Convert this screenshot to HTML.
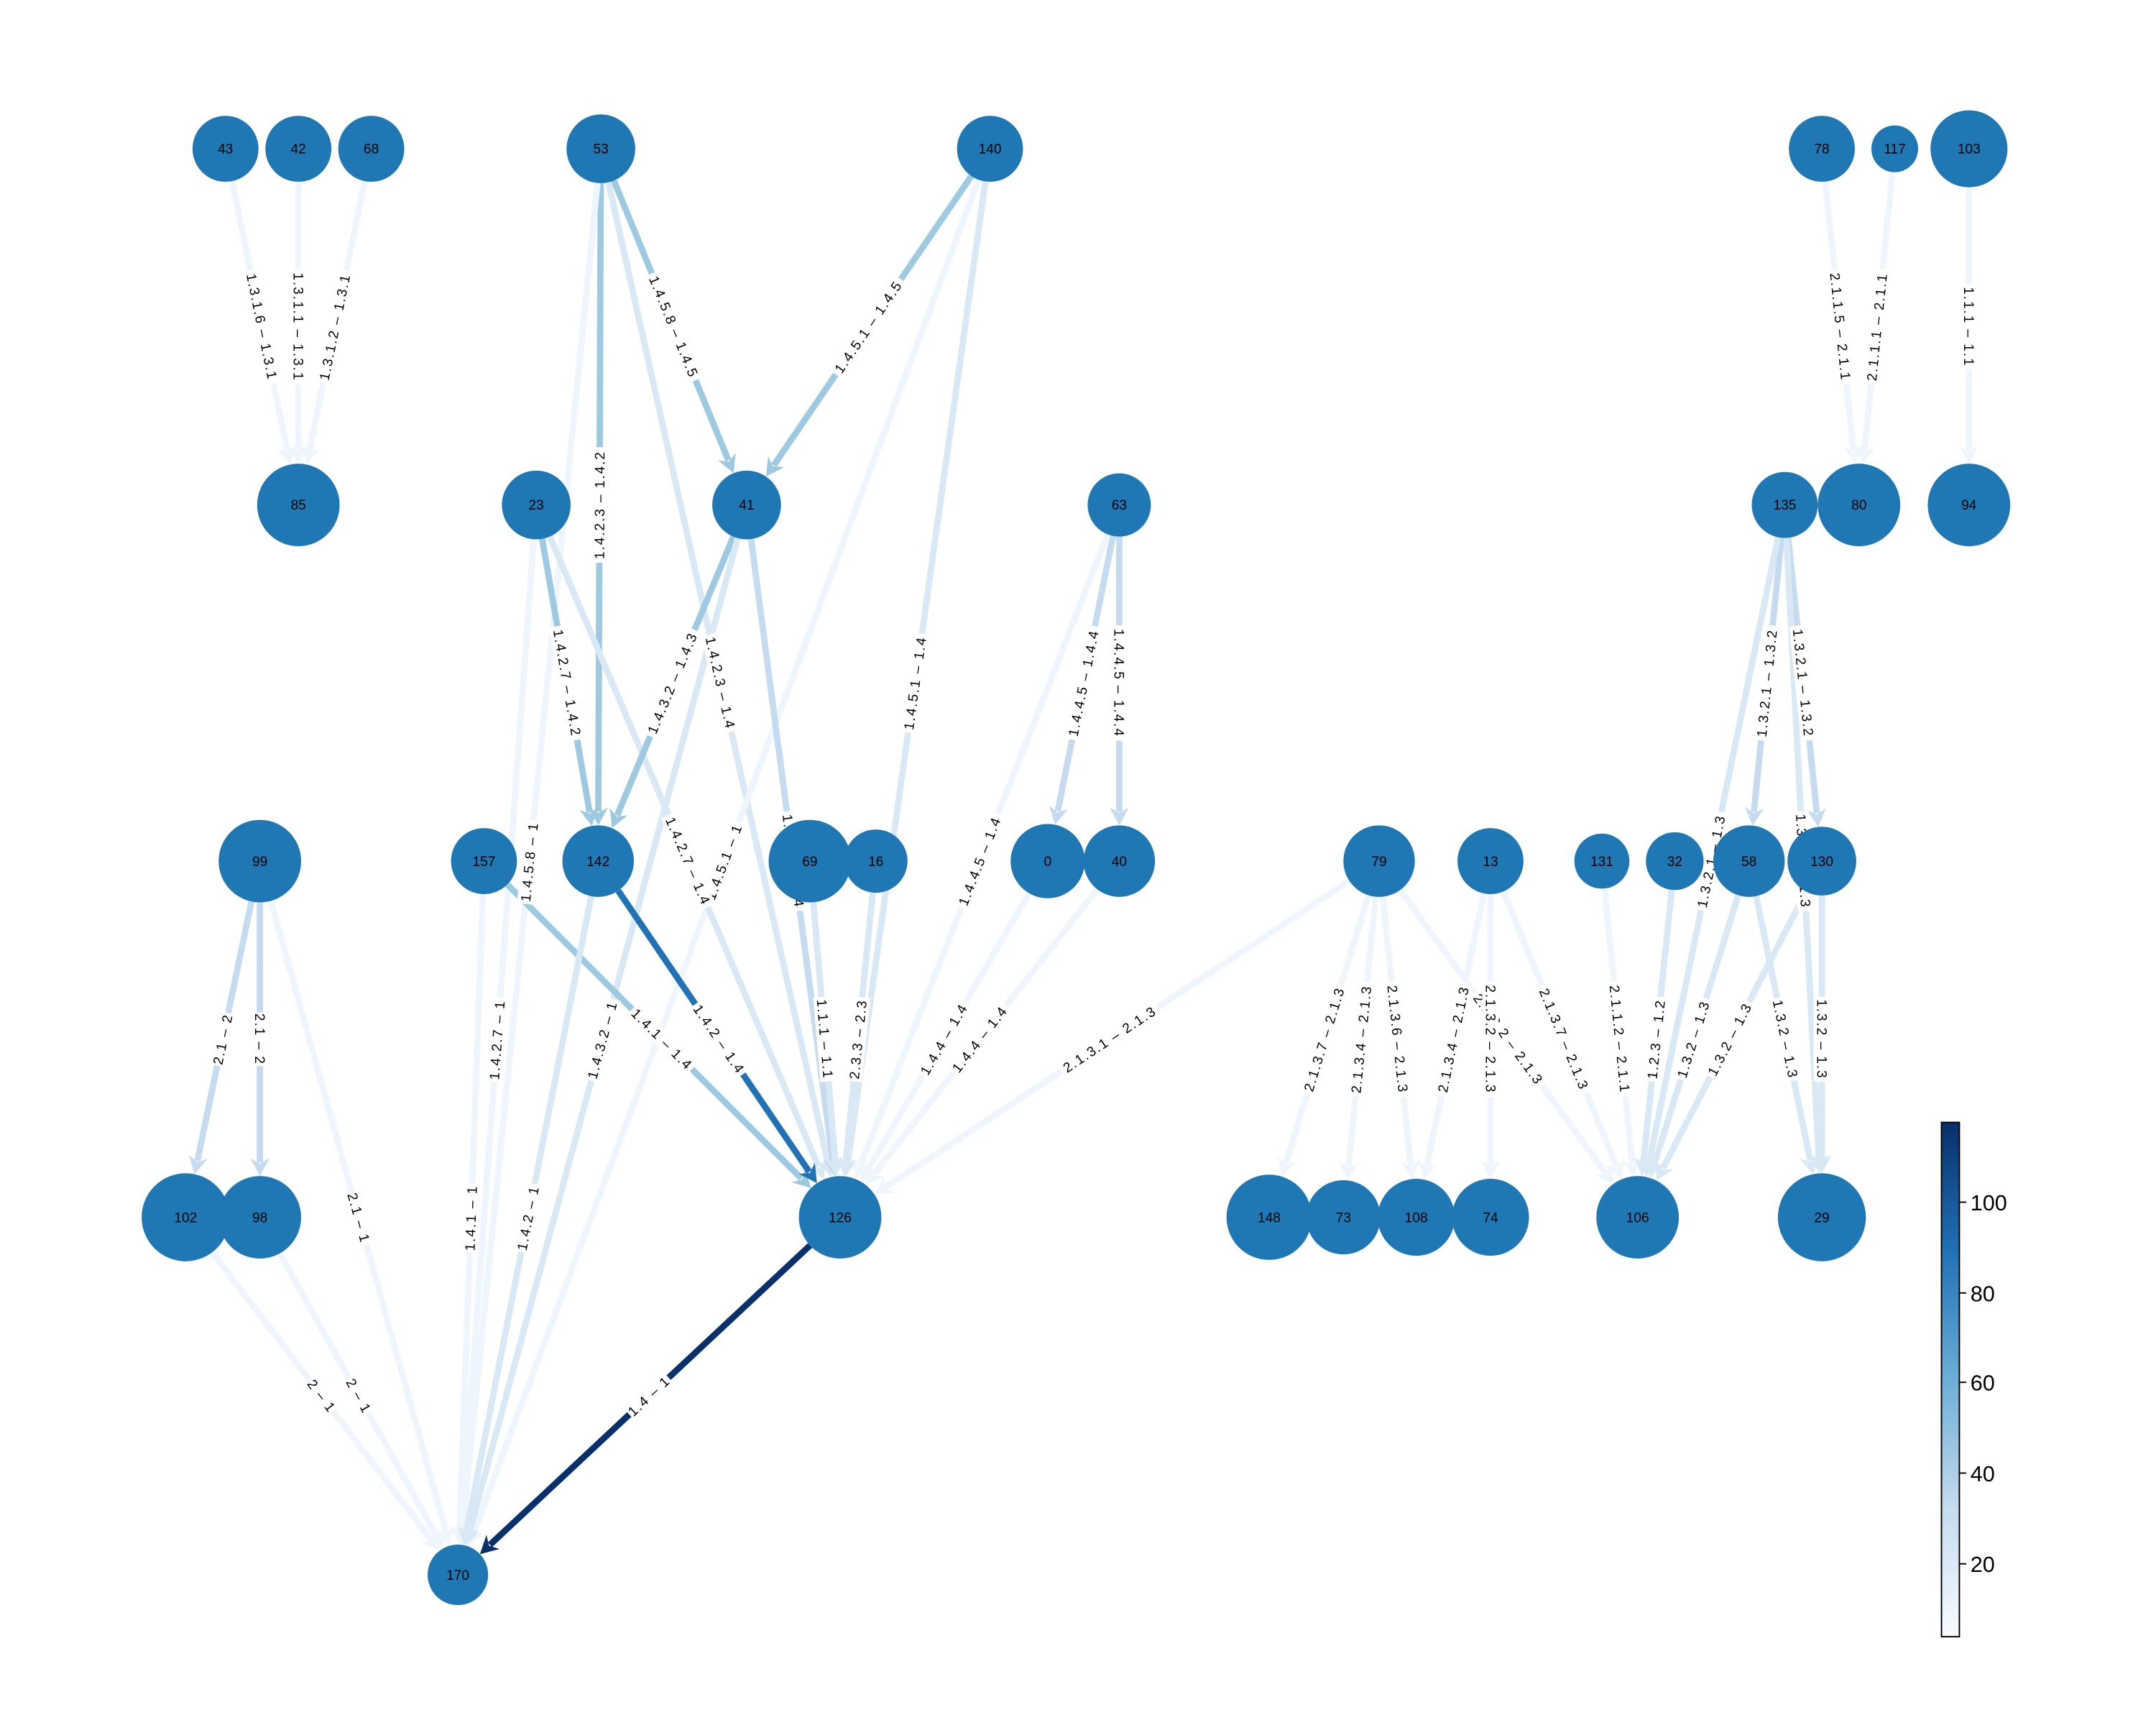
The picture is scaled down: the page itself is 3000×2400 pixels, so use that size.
<!DOCTYPE html>
<html><head><meta charset="utf-8"><style>
html,body{margin:0;padding:0;background:#fff;}
svg{display:block;}
text{font-family:"Liberation Sans",sans-serif;}
</style></head><body>
<svg id="s" width="3000" height="2400" viewBox="0 0 1568 1254" xmlns="http://www.w3.org/2000/svg">
<defs><linearGradient id="cb" x1="0" y1="1" x2="0" y2="0">
<stop offset="0" stop-color="#f7fbff"/><stop offset="0.25" stop-color="#c6dbef"/><stop offset="0.5" stop-color="#6baed6"/><stop offset="0.75" stop-color="#2171b5"/><stop offset="1" stop-color="#08306b"/></linearGradient></defs>
<g id="E"></g><g id="L"></g><g id="N"></g>
<rect x="1412" y="816" width="13" height="374" fill="url(#cb)" stroke="#000" stroke-width="1"/>
<g font-size="16" fill="#000">
<line x1="1425" y1="874" x2="1430" y2="874" stroke="#000"/><text x="1433" y="880">100</text>
<line x1="1425" y1="940" x2="1430" y2="940" stroke="#000"/><text x="1433" y="946">80</text>
<line x1="1425" y1="1005" x2="1430" y2="1005" stroke="#000"/><text x="1433" y="1011">60</text>
<line x1="1425" y1="1071" x2="1430" y2="1071" stroke="#000"/><text x="1433" y="1077">40</text>
<line x1="1425" y1="1137" x2="1430" y2="1137" stroke="#000"/><text x="1433" y="1143">20</text>
</g>
</svg>
<script>
var n={43:[164,108,24],42:[217,108,24],68:[270,108,24],53:[437,108,25],140:[720,108,24],78:[1325,108,24],117:[1378,108,17],103:[1432,108,28],
85:[217,367,30],23:[390,367,25],41:[543,367,25],63:[814,367,23],135:[1298,367,24],80:[1352,367,30],94:[1432,367,30],
99:[189,626,30],157:[352,626,24],142:[435,626,26],69:[589,626,30],16:[637,626,23],0:[762,626,27],40:[814,626,26],
79:[1003,626,26],13:[1084,626,24],131:[1165,626,20],32:[1218,626,21],58:[1272,626,26],130:[1325,626,25],
102:[135,885,32],98:[189,885,30],126:[611,885,30],148:[923,885,31],73:[977,885,27],108:[1030,885,28],74:[1084,885,28],106:[1191,885,30],29:[1325,885,32],170:[333,1145,22]};
var VL="#eef5fc",L="#d9e8f5",C="#c6dbef",M="#9ecae1",D="#2171b5",K="#08306b";
var e=[[43,85,VL,"1.3.1.6 – 1.3.1"],[42,85,VL,"1.3.1.1 – 1.3.1"],[68,85,VL,"1.3.1.2 – 1.3.1"],
[53,41,M,"1.4.5.8 – 1.4.5"],[140,41,M,"1.4.5.1 – 1.4.5"],[53,142,M,"1.4.2.3 – 1.4.2"],[53,126,L,"1.4.2.3 – 1.4"],[53,170,VL,"1.4.5.8 – 1"],
[140,126,L,"1.4.5.1 – 1.4"],[140,170,VL,"1.4.5.1 – 1"],[23,142,M,"1.4.2.7 – 1.4.2"],[23,126,L,"1.4.2.7 – 1.4"],[23,170,VL,"1.4.2.7 – 1"],
[41,142,M,"1.4.3.2 – 1.4.3"],[41,126,C,"1.4.3.2 – 1.4"],[41,170,L,"1.4.3.2 – 1"],
[63,0,C,"1.4.4.5 – 1.4.4"],[63,40,C,"1.4.4.5 – 1.4.4"],[63,126,VL,"1.4.4.5 – 1.4"],
[99,102,C,"2.1 – 2"],[99,98,C,"2.1 – 2"],[99,170,VL,"2.1 – 1"],[157,170,VL,"1.4.1 – 1"],[157,126,M,"1.4.1 – 1.4"],
[142,126,D,"1.4.2 – 1.4"],[142,170,L,"1.4.2 – 1"],[69,126,L,"1.1.1 – 1.1"],[16,126,L,"2.3.3 – 2.3"],
[0,126,VL,"1.4.4 – 1.4"],[40,126,VL,"1.4.4 – 1.4"],[79,126,VL,"2.1.3.1 – 2.1.3"],[102,170,VL,"2 – 1"],[98,170,VL,"2 – 1"],[126,170,K,"1.4 – 1"],
[78,80,VL,"2.1.1.5 – 2.1.1"],[117,80,VL,"2.1.1.1 – 2.1.1"],[103,94,VL,"1.1.1 – 1.1"],
[135,58,C,"1.3.2.1 – 1.3.2"],[135,130,C,"1.3.2.1 – 1.3.2"],[135,106,L,"1.3.2.1 – 1.3"],[135,29,L,"1.3.2.1 – 1.3"],
[79,148,VL,"2.1.3.7 – 2.1.3"],[79,73,VL,"2.1.3.4 – 2.1.3"],[79,108,VL,"2.1.3.6 – 2.1.3"],[79,106,VL,"2.1.3.2 – 2.1.3"],
[13,108,VL,"2.1.3.4 – 2.1.3"],[13,74,VL,"2.1.3.2 – 2.1.3"],[13,106,VL,"2.1.3.7 – 2.1.3"],
[131,106,VL,"2.1.1.2 – 2.1.1"],[32,106,L,"1.2.3 – 1.2"],[58,106,L,"1.3.2 – 1.3"],[58,29,L,"1.3.2 – 1.3"],[130,106,L,"1.3.2 – 1.3"],[130,29,L,"1.3.2 – 1.3"]];
var NS="http://www.w3.org/2000/svg";
function mk(t,a,p){var el=document.createElementNS(NS,t);for(var k in a)el.setAttribute(k,a[k]);p.appendChild(el);return el;}
var E=document.getElementById("E"),N=document.getElementById("N"),Lg=document.getElementById("L");
e.forEach(function(d){var a=n[d[0]],b=n[d[1]];var dx=b[0]-a[0],dy=b[1]-a[1],len=Math.hypot(dx,dy),ux=dx/len,uy=dy/len;
var x1=a[0]+ux*a[2],y1=a[1]+uy*a[2],x2=b[0]-ux*b[2],y2=b[1]-uy*b[2];
var hx=x2-ux*13,hy=y2-uy*13;
mk("line",{x1:x1,y1:y1,x2:hx+ux*3,y2:hy+uy*3,stroke:d[2],"stroke-width":4.6},E);
var px=-uy,py=ux;
mk("polygon",{points:x2+","+y2+" "+(hx+px*7)+","+(hy+py*7)+" "+(hx+ux*4)+","+(hy+uy*4)+" "+(hx-px*7)+","+(hy-py*7),fill:d[2]},E);
var mx=(a[0]+b[0])/2,my=(a[1]+b[1])/2,ang=Math.atan2(dy,dx)*180/Math.PI;if(ang>90)ang-=180;if(ang<-90)ang+=180;
var g=mk("g",{transform:"translate("+mx+","+my+") rotate("+ang+")"},Lg);
var w=d[3].length*5.6;mk("rect",{x:-w/2,y:-6,width:w,height:12,fill:"#fff"},g);
var t=mk("text",{x:0,y:3.5,"text-anchor":"middle","font-size":"10","letter-spacing":"1"},g);t.textContent=d[3];});
for(var k in n){var p=n[k];mk("circle",{cx:p[0],cy:p[1],r:p[2],fill:"#1f77b4"},N);
var t=mk("text",{x:p[0],y:p[1]+3.5,"text-anchor":"middle","font-size":"10"},N);t.textContent=k;}
</script>
</body></html>
